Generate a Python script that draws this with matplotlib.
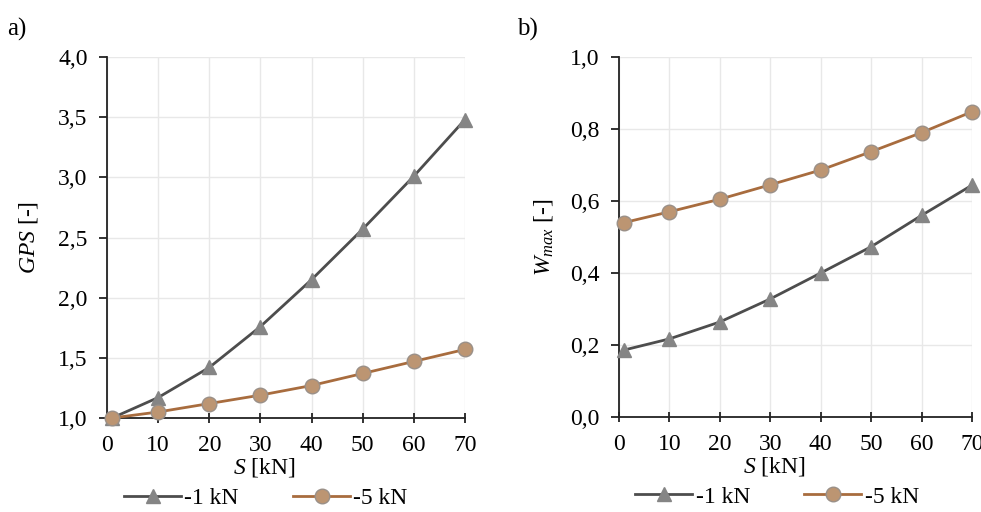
import numpy as np
import matplotlib.pyplot as plt
from matplotlib.ticker import FuncFormatter, MultipleLocator

plt.rcParams['font.family'] = ['Liberation Serif', 'DejaVu Serif']
plt.rcParams['mathtext.fontset'] = 'custom'
plt.rcParams['mathtext.it'] = 'Liberation Serif:italic'
plt.rcParams['mathtext.rm'] = 'Liberation Serif'

# ── data ─────────────────────────────────────────────────────────────────────
S = [1, 10, 20, 30, 40, 50, 60, 70]
series_names = ['-1 kN', '-5 kN']

gps_1kN = [1.00, 1.17, 1.42, 1.76, 2.15, 2.57, 3.01, 3.48]
gps_5kN = [1.00, 1.05, 1.12, 1.19, 1.27, 1.37, 1.47, 1.57]

wmax_1kN = [0.186, 0.217, 0.264, 0.328, 0.400, 0.473, 0.560, 0.644]
wmax_5kN = [0.540, 0.570, 0.605, 0.645, 0.686, 0.737, 0.790, 0.848]

# ── styles ───────────────────────────────────────────────────────────────────
GRAY_LINE = '#4d4d4d'
GRAY_MARK = '#858585'
ORNG_LINE = '#a86c3e'
ORNG_MARK = '#bc9572'
FS = 17

comma = FuncFormatter(lambda v, p: f'{v:.1f}'.replace('.', ','))

fig = plt.figure(figsize=(9.81, 5.12), dpi=100)
ax1 = fig.add_axes([107/981, 1 - 418/512, 358/981, 361/512])
ax2 = fig.add_axes([619/981, 1 - 417/512, 353/981, 360/512])


def style(ax, ylim, ystep, ylabel, ylab_x, leg_x):
    ax.set_xlim(0, 70)
    ax.set_ylim(*ylim)
    ax.xaxis.set_major_locator(MultipleLocator(10))
    ax.yaxis.set_major_locator(MultipleLocator(ystep))
    ax.yaxis.set_major_formatter(comma)
    ax.grid(True, color='#e8e8e8', linewidth=1.0)
    ax.set_axisbelow(True)
    for sp in ['top', 'right']:
        ax.spines[sp].set_visible(False)
    for sp in ['left', 'bottom']:
        ax.spines[sp].set_color('#222222')
        ax.spines[sp].set_linewidth(1.3)
    ax.tick_params(axis='x', direction='inout', length=7, width=1.3,
                   color='#222222', labelsize=FS, pad=9)
    ax.tick_params(axis='y', direction='out', length=6, width=1.3,
                   color='#222222', labelsize=FS, pad=8)
    ax.set_xlabel(r'$\mathit{S}$ [kN]', fontsize=FS)
    ax.xaxis.label.set_va('center')
    ax.xaxis.set_label_coords(0.44, -0.138)
    ax.set_ylabel(ylabel, fontsize=FS)
    ax.yaxis.label.set_va('center')
    ax.yaxis.set_label_coords(ylab_x, 0.5)
    ax.legend(loc='center', bbox_to_anchor=(leg_x, -0.222), ncol=2,
              frameon=False, fontsize=FS, handlelength=2.4,
              columnspacing=2.3, handletextpad=0.15, borderaxespad=0,
              borderpad=0)


def draw(ax, y1, y5):
    ax.plot(S, y1, color=GRAY_LINE, lw=2, marker='^', ms=9.5,
            mfc=GRAY_MARK, mec=GRAY_MARK, label=series_names[0], zorder=3,
            clip_on=False)
    ax.plot(S, y5, color=ORNG_LINE, lw=2, marker='o', ms=10.5,
            mfc=ORNG_MARK, mec='#9a9088', label=series_names[1], zorder=3,
            clip_on=False)


draw(ax1, gps_1kN, gps_5kN)
style(ax1, (1.0, 4.0), 0.5, r'$\mathit{GPS}$ [-]', -0.22, 0.444)

draw(ax2, wmax_1kN, wmax_5kN)
style(ax2, (0.0, 1.0), 0.2, r'$\mathit{W}_{\mathit{max}}$ [-]', -0.215, 0.448)

fig.text(7/981, 1 - 29/512, 'a)', fontsize=18, va='center')
fig.text(517/981, 1 - 29/512, 'b)', fontsize=18, va='center')

fig.savefig('out.png', dpi=100)
